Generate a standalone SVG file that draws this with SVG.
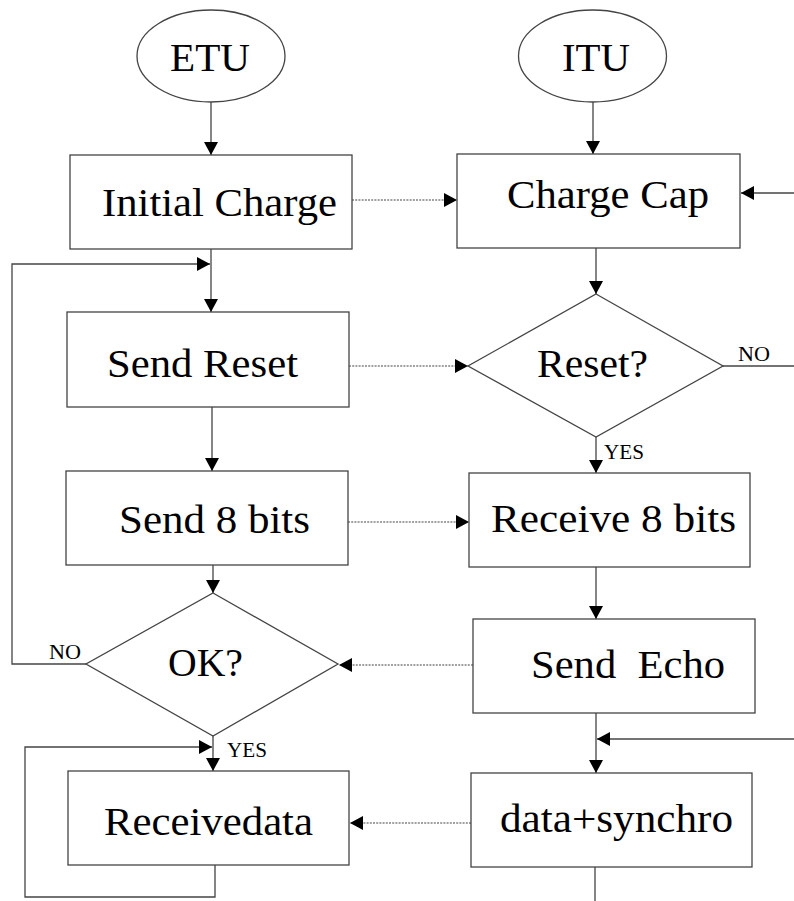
<svg xmlns="http://www.w3.org/2000/svg" width="794" height="901" viewBox="0 0 794 901">
  <style>
    .shape { fill: #fff; stroke: #444; stroke-width: 1.3; }
    .big { font-family: "Liberation Serif", Tinos, "Times New Roman", "DejaVu Serif", serif; font-size: 41px; fill: #000; }
    .small { font-family: "Liberation Serif", Tinos, "Times New Roman", "DejaVu Serif", serif; font-size: 20px; fill: #000; }
    .flow { fill: none; stroke: #444; stroke-width: 1.3; }
    .link { fill: none; stroke: #444; stroke-width: 1.2; stroke-dasharray: 2 1.2; }
  </style>
  <defs>
    <marker id="arrow" viewBox="0 0 13 14" refX="13" refY="7" markerWidth="13" markerHeight="14" markerUnits="userSpaceOnUse" orient="auto">
      <path d="M0,0 L13,7 L0,14 Z" fill="#000"/>
    </marker>
  </defs>

  <rect width="794" height="901" fill="#fff"/>

  <!-- connectors -->
  <g id="connectors">
    <!-- ETU column -->
    <line class="flow" x1="211" y1="102" x2="211" y2="155" marker-end="url(#arrow)"/>
    <line class="flow" x1="211" y1="249" x2="211" y2="312" marker-end="url(#arrow)"/>
    <polyline class="flow" points="86,664 12,664 12,264 210,264" marker-end="url(#arrow)"/>
    <line class="flow" x1="212" y1="407" x2="212" y2="471" marker-end="url(#arrow)"/>
    <line class="flow" x1="213" y1="565" x2="213" y2="593" marker-end="url(#arrow)"/>
    <line class="flow" x1="213" y1="736" x2="213" y2="771" marker-end="url(#arrow)"/>
    <polyline class="flow" points="215,865 215,897 25,897 25,747 212,747" marker-end="url(#arrow)"/>

    <!-- ITU column -->
    <line class="flow" x1="593" y1="102" x2="593" y2="154" marker-end="url(#arrow)"/>
    <line class="flow" x1="794" y1="193" x2="741" y2="193" marker-end="url(#arrow)"/>
    <line class="flow" x1="596" y1="248" x2="596" y2="294" marker-end="url(#arrow)"/>
    <line class="flow" x1="723" y1="366" x2="794" y2="366"/>
    <line class="flow" x1="596" y1="437" x2="596" y2="473" marker-end="url(#arrow)"/>
    <line class="flow" x1="596" y1="567" x2="596" y2="619" marker-end="url(#arrow)"/>
    <line class="flow" x1="596" y1="713" x2="596" y2="773" marker-end="url(#arrow)"/>
    <line class="flow" x1="794" y1="739" x2="597" y2="739" marker-end="url(#arrow)"/>
    <line class="flow" x1="595" y1="867" x2="595" y2="901"/>

    <!-- exchanges between the two units -->
    <line class="link" x1="352" y1="200" x2="457" y2="200" marker-end="url(#arrow)"/>
    <line class="link" x1="349" y1="366" x2="468" y2="366" marker-end="url(#arrow)"/>
    <line class="link" x1="348" y1="522" x2="469" y2="522" marker-end="url(#arrow)"/>
    <line class="link" x1="473" y1="665" x2="339" y2="665" marker-end="url(#arrow)"/>
    <line class="link" x1="471" y1="823" x2="350" y2="823" marker-end="url(#arrow)"/>

    <!-- branch labels -->
    <text class="small" x="738" y="361" textLength="32" lengthAdjust="spacingAndGlyphs">NO</text>
    <text class="small" x="604" y="459" textLength="40" lengthAdjust="spacingAndGlyphs">YES</text>
    <text class="small" x="49" y="659" textLength="32" lengthAdjust="spacingAndGlyphs">NO</text>
    <text class="small" x="227" y="757" textLength="40" lengthAdjust="spacingAndGlyphs">YES</text>
  </g>

  <!-- ETU side -->
  <g id="etu">
    <ellipse class="shape" cx="211" cy="56" rx="74" ry="46"/>
    <text class="big" x="170" y="71" textLength="80" lengthAdjust="spacingAndGlyphs">ETU</text>
  </g>
  <g id="initial-charge">
    <rect class="shape" x="70" y="155" width="282" height="94"/>
    <text class="big" x="102" y="216" textLength="235" lengthAdjust="spacingAndGlyphs">Initial Charge</text>
  </g>
  <g id="send-reset">
    <rect class="shape" x="67" y="312" width="282" height="95"/>
    <text class="big" x="107" y="377" textLength="191" lengthAdjust="spacingAndGlyphs">Send Reset</text>
  </g>
  <g id="send-8-bits">
    <rect class="shape" x="66" y="471" width="282" height="94"/>
    <text class="big" x="119" y="533" textLength="191" lengthAdjust="spacingAndGlyphs">Send 8 bits</text>
  </g>
  <g id="ok">
    <polygon class="shape" points="213,593 338,664 213,736 86,664"/>
    <text class="big" x="168" y="676" textLength="75" lengthAdjust="spacingAndGlyphs">OK?</text>
  </g>
  <g id="receivedata">
    <rect class="shape" x="68" y="771" width="281" height="94"/>
    <text class="big" x="104" y="835" textLength="209" lengthAdjust="spacingAndGlyphs">Receivedata</text>
  </g>

  <!-- ITU side -->
  <g id="itu">
    <ellipse class="shape" cx="592.5" cy="56" rx="74" ry="46"/>
    <text class="big" x="562" y="71" textLength="68" lengthAdjust="spacingAndGlyphs">ITU</text>
  </g>
  <g id="charge-cap">
    <rect class="shape" x="457" y="154" width="283" height="94"/>
    <text class="big" x="507" y="208" textLength="202" lengthAdjust="spacingAndGlyphs">Charge Cap</text>
  </g>
  <g id="reset">
    <polygon class="shape" points="596,294 723,366 596,437 468,366"/>
    <text class="big" x="537" y="377" textLength="111" lengthAdjust="spacingAndGlyphs">Reset?</text>
  </g>
  <g id="receive-8-bits">
    <rect class="shape" x="469" y="473" width="281" height="94"/>
    <text class="big" x="491" y="532" textLength="245" lengthAdjust="spacingAndGlyphs">Receive 8 bits</text>
  </g>
  <g id="send-echo">
    <rect class="shape" x="473" y="619" width="282" height="94"/>
    <text class="big" x="531" y="678" xml:space="preserve" textLength="194" lengthAdjust="spacingAndGlyphs">Send  Echo</text>
  </g>
  <g id="data-synchro">
    <rect class="shape" x="471" y="773" width="281" height="94"/>
    <text class="big" x="500" y="832" textLength="233" lengthAdjust="spacingAndGlyphs">data+synchro</text>
  </g>
</svg>
